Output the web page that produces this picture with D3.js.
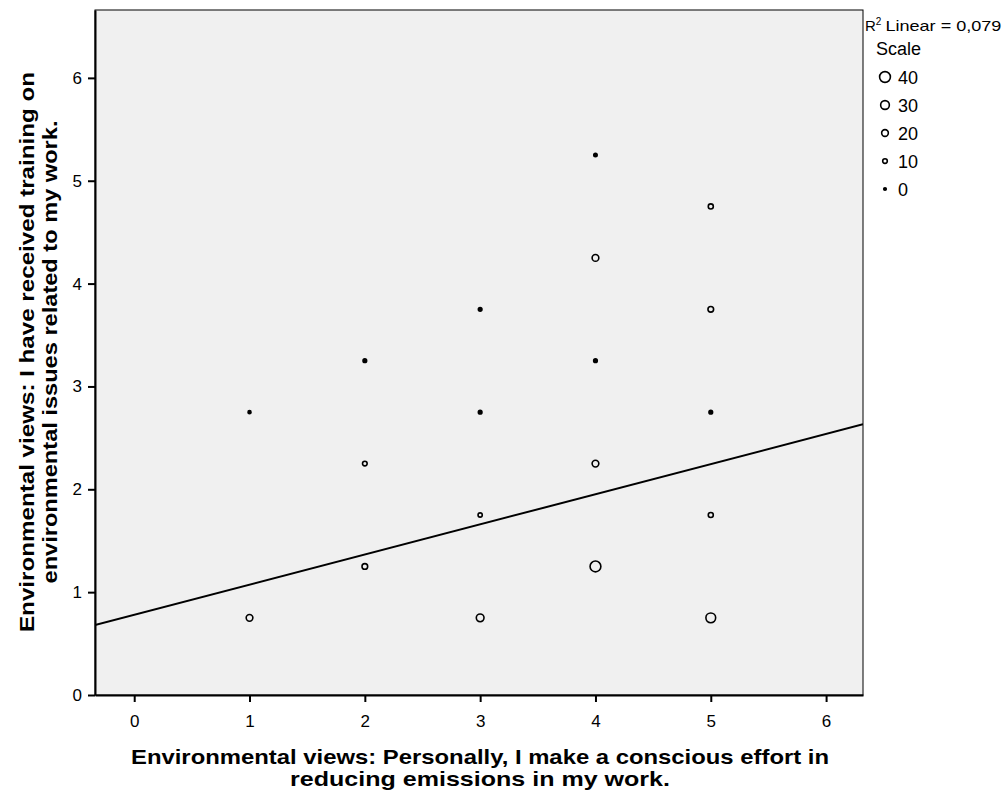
<!DOCTYPE html>
<html><head><meta charset="utf-8">
<script src="https://cdn.jsdelivr.net/npm/d3@7"></script>
<style>body{margin:0;background:#fff}svg{display:block;font-family:"Liberation Sans",Arial,sans-serif}</style>
</head><body><svg id="c" width="1005" height="794"></svg>
<script>
const xValues = [1,1, 2,2,2, 3,3,3,3, 4,4,4,4,4, 5,5,5,5,5];
const yValues = [0.75,2.75, 1.25,2.25,3.25, 0.75,1.75,2.75,3.75, 1.25,2.25,3.25,4.25,5.25, 0.75,1.75,2.75,3.75,4.75];
const counts  = [20,2, 15,10,5, 25,8,5,5, 40,20,5,20,4, 35,12,5,15,12];
const xTicks = [0,1,2,3,4,5,6];
const yTicks = [0,1,2,3,4,5,6];
const legendValues = [40,30,20,10,0];
const fitIntercept = 0.78, fitSlope = 0.293;
const r2Label = "Linear = 0,079";

const svg = d3.select("#c");
const L=95, R=863, T=10, B=695;
const x = d3.scaleLinear().domain([-0.34,6.32]).range([L,R]);
const y = d3.scaleLinear().domain([0,6.66]).range([B,T]);
const r = d3.scaleLinear().domain([0,40]).range([1.3,5.4]);

svg.append("rect").attr("x",L).attr("y",T).attr("width",R-L).attr("height",B-T)
  .attr("fill","#f0f0f0").attr("stroke","#000").attr("stroke-width",1);

svg.append("clipPath").attr("id","clip").append("rect").attr("x",L).attr("y",T).attr("width",R-L).attr("height",B-T);

const xAxis = svg.append("g").attr("transform",`translate(0,${B})`)
  .call(d3.axisBottom(x).tickValues(xTicks).tickSize(7).tickSizeOuter(0).tickPadding(13).tickFormat(d3.format("d")));
const yAxis = svg.append("g").attr("transform",`translate(${L},0)`)
  .call(d3.axisLeft(y).tickValues(yTicks).tickSize(7).tickSizeOuter(0).tickPadding(6).tickFormat(d3.format("d")));
[xAxis,yAxis].forEach(a=>{
  a.select(".domain").attr("stroke","#000").attr("stroke-width",2);
  a.selectAll(".tick line").attr("stroke","#000").attr("stroke-width",2);
  a.selectAll(".tick text").attr("font-size",17).attr("fill","#000").attr("font-family","Liberation Sans, Arial, sans-serif");
});

// regression line
const xs=x.domain();
svg.append("line").attr("clip-path","url(#clip)")
  .attr("x1",x(xs[0])).attr("y1",y(fitIntercept+fitSlope*xs[0]))
  .attr("x2",x(xs[1])).attr("y2",y(fitIntercept+fitSlope*xs[1]))
  .attr("stroke","#000").attr("stroke-width",2);

// points
svg.append("g").selectAll("circle").data(counts).join("circle")
  .attr("cx",(d,i)=>x(xValues[i])).attr("cy",(d,i)=>y(yValues[i]))
  .attr("r",d=>r(d)).attr("fill",d=>d<=5?"#000":"none").attr("stroke","#000").attr("stroke-width",1.6);

// axis titles
function title(g,xp,yp,txt,len){
  g.append("text").attr("x",xp).attr("y",yp).attr("text-anchor","middle")
   .attr("font-size",21).attr("font-weight","bold")
   .attr("textLength",len).attr("lengthAdjust","spacingAndGlyphs").text(txt);
}
title(svg,480,764,"Environmental views: Personally, I make a conscious effort in",698);
title(svg,480,786,"reducing emissions in my work.",380);
const yt = svg.append("g").attr("transform",`translate(34,352) rotate(-90)`);
title(yt,0,0,"Environmental views: I have received training on",560);
title(yt,0,23,"environmental issues related to my work.",463);

// legend
const lg = svg.append("g");
const rt = lg.append("text").attr("x",865).attr("y",31).attr("font-size",15);
rt.append("tspan").text("R");
rt.append("tspan").attr("dy",-6).attr("font-size",10).text("2");
rt.append("tspan").attr("dy",6).attr("dx",4).attr("textLength",116).attr("lengthAdjust","spacingAndGlyphs").text(r2Label);
lg.append("text").attr("x",876).attr("y",55).attr("font-size",18).text("Scale");
const items = lg.selectAll("g.item").data(legendValues).join("g").attr("class","item")
  .attr("transform",(d,i)=>`translate(0,${77+i*28})`);
items.append("circle").attr("cx",885).attr("cy",0).attr("r",d=>r(d))
  .attr("fill",d=>d<=5?"#000":"none").attr("stroke","#000").attr("stroke-width",1.6);
items.append("text").attr("x",898).attr("y",7).attr("font-size",18).text(d=>d);
</script></body></html>
